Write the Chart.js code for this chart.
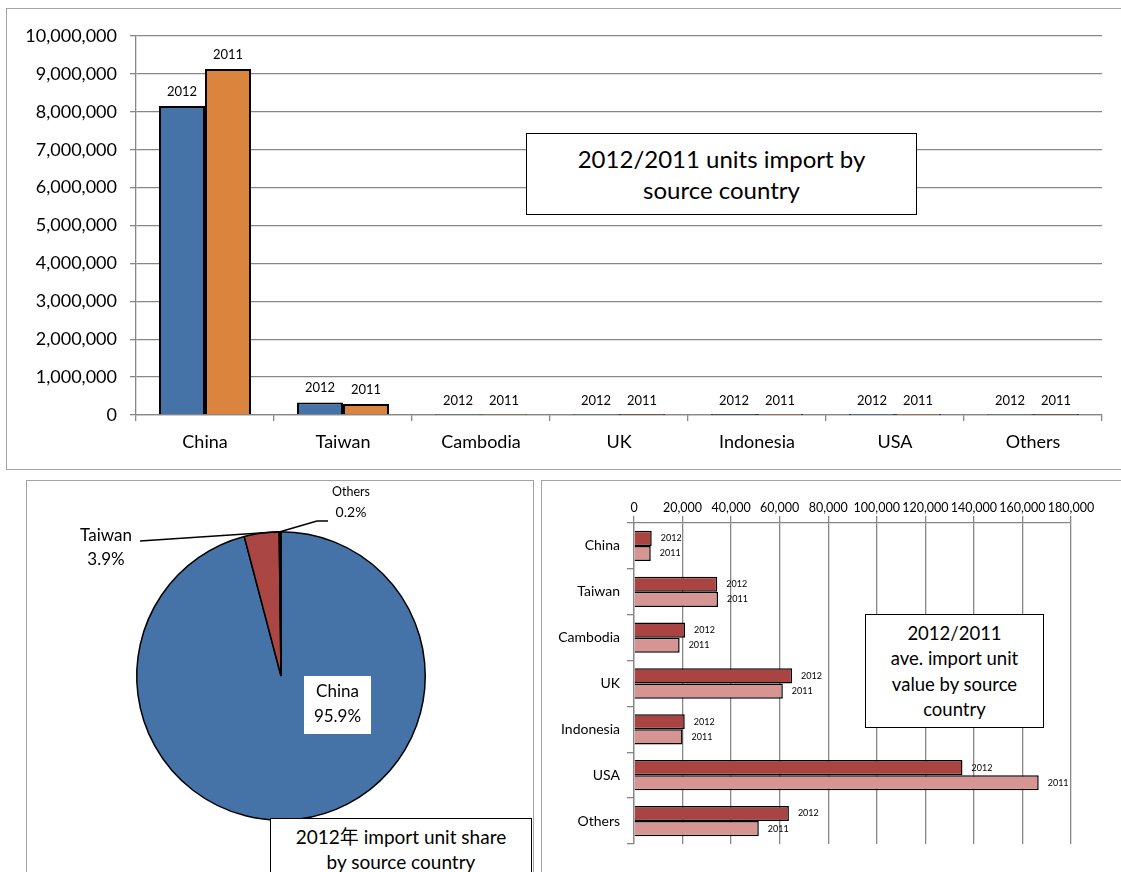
<!DOCTYPE html>
<html><head><meta charset="utf-8">
<script src="https://cdn.jsdelivr.net/npm/chart.js"></script>
<style>
html,body{margin:0;padding:0;background:#fff;overflow:hidden;}
body{width:1121px;height:872px;position:relative;font-family:Lato,"Noto Sans CJK SC",sans-serif;color:#000;}
.panel{position:absolute;border:1.5px solid #a3a3a3;box-sizing:border-box;}
.wrap{position:absolute;}
.wrap canvas{display:block;}
.tbox{position:absolute;background:#fff;border:1.5px solid #000;box-sizing:border-box;text-align:center;color:#000;}
</style></head><body>
<div class="panel" style="left:6px;top:8px;width:1140px;height:462px"></div>
<div class="panel" style="left:26px;top:480px;width:508px;height:420px"></div>
<div class="panel" style="left:541px;top:480px;width:600px;height:420px"></div>

<div class="wrap" style="left:0;top:0;width:1121px;height:470px"><canvas id="c1" width="1121" height="470"></canvas></div>
<div class="wrap" style="left:26px;top:480px;width:507px;height:392px"><canvas id="c2" width="507" height="392"></canvas></div>
<div class="wrap" style="left:541px;top:480px;width:580px;height:392px"><canvas id="c3" width="580" height="392"></canvas></div>

<div class="tbox" style="left:526px;top:133px;width:391px;height:82px;font-size:24px;line-height:31px;padding-top:9px;">2012/2011 units import by<br>source country</div>
<div class="tbox" style="left:270px;top:818px;width:262px;height:80px;font-size:19px;line-height:25px;padding-top:5px;">2012年 import unit share<br>by source country</div>
<div class="tbox" style="left:865px;top:614px;width:179px;height:114px;font-size:18.5px;line-height:25.3px;padding-top:6px;">2012/2011<br>ave. import unit<br>value by source<br>country</div>

<script>
// ---------- DATA ----------
const categories = ['China','Taiwan','Cambodia','UK','Indonesia','USA','Others'];
const seriesNames = ['2012','2011'];
const units2012 = [8150000, 330000, 4000, 3500, 3000, 2500, 3500];
const units2011 = [9130000, 290000, 3500, 3000, 2500, 2500, 3000];
const unitsAxisMax = 10000000;
const unitsAxisStep = 1000000;

const shareLabels = ['China','Taiwan','Others'];
const share2012 = [95.9, 3.9, 0.2];

const valueCategories = ['China','Taiwan','Cambodia','UK','Indonesia','USA','Others'];
const value2012 = [7300, 34300, 21000, 65100, 20900, 135300, 63800];
const value2011 = [6900, 34600, 18800, 61300, 20000, 166700, 51400];
const valueAxisMax = 180000;
const valueAxisStep = 20000;

// ---------- COMMON ----------
const FONT = "Lato, 'Noto Sans CJK SC', sans-serif";
Chart.defaults.font.family = FONT;
Chart.defaults.color = '#000';
const GRID = '#878787';
const fmt = v => Number(v).toLocaleString('en-US');

function barLabelPlugin(size, offset, horizontal){
  return {
    id: 'barLabels' + (horizontal ? 'H' : 'V'),
    afterDatasetsDraw(chart){
      const ctx = chart.ctx;
      ctx.save();
      ctx.font = size + 'px ' + FONT;
      ctx.fillStyle = '#000';
      chart.data.datasets.forEach((ds, i) => {
        const meta = chart.getDatasetMeta(i);
        meta.data.forEach(el => {
          if (horizontal) {
            ctx.textAlign = 'left'; ctx.textBaseline = 'middle';
            ctx.fillText(ds.label, el.x + offset, el.y);
          } else {
            ctx.textAlign = 'center'; ctx.textBaseline = 'alphabetic';
            ctx.fillText(ds.label, el.x, el.y - offset);
          }
        });
      });
      ctx.restore();
    }
  };
}

// ---------- TOP: units import ----------
new Chart(document.getElementById('c1'), {
  type: 'bar',
  data: {
    labels: categories,
    datasets: [
      {label: seriesNames[0], data: units2012, backgroundColor: '#4572A7', borderColor: '#000', borderWidth: 2},
      {label: seriesNames[1], data: units2011, backgroundColor: '#DB843D', borderColor: '#000', borderWidth: 2}
    ]
  },
  options: {
    responsive: false, animation: false, events: [],
    layout: {padding: {left: 0, top: 36, right: 19, bottom: 0}},
    datasets: {bar: {categoryPercentage: 0.667, barPercentage: 1.0}},
    plugins: {legend: {display: false}, tooltip: {enabled: false}},
    scales: {
      x: {
        grid: {display: true, drawOnChartArea: false, drawTicks: true, tickLength: 6, color: GRID, lineWidth: 1.3, offset: true},
        border: {color: GRID, width: 1.3},
        ticks: {font: {size: 18}, padding: 10, color: '#000'},
        afterFit: s => { s.height = 55; }
      },
      y: {
        min: 0, max: unitsAxisMax,
        grid: {color: GRID, lineWidth: 1.3, tickLength: 6},
        border: {color: GRID, width: 1.3},
        ticks: {stepSize: unitsAxisStep, font: {size: 18}, padding: 13, color: '#000', callback: v => fmt(v)},
        afterFit: s => { s.width = 136; }
      }
    }
  },
  plugins: [barLabelPlugin(13, 10, false)]
});

// ---------- BOTTOM LEFT: pie share ----------
const pieLabels = {
  id: 'pieLabels',
  afterDraw(chart){
    const ctx = chart.ctx;
    const meta = chart.getDatasetMeta(0);
    const china = meta.data[0], tw = meta.data[1], ot = meta.data[2];
    const cx = china.x, cy = china.y, r = china.outerRadius;
    ctx.save();
    ctx.strokeStyle = '#000'; ctx.lineWidth = 1.5; ctx.fillStyle = '#000';
    // Taiwan leader
    const aT = tw.endAngle;
    const tx = cx + Math.cos(aT) * r, ty = cy + Math.sin(aT) * r;
    ctx.beginPath(); ctx.moveTo(cx - 141, cy - 135); ctx.lineTo(tx, ty); ctx.stroke();
    ctx.font = '17px ' + FONT; ctx.textAlign = 'center'; ctx.textBaseline = 'middle';
    ctx.fillText(shareLabels[1], cx - 175, cy - 140);
    ctx.fillText(share2012[1].toFixed(1) + '%', cx - 175, cy - 116);
    // Others leader
    const aO = (ot.startAngle + ot.endAngle) / 2;
    const ox = cx + Math.cos(aO) * r, oy = cy + Math.sin(aO) * r;
    ctx.beginPath(); ctx.moveTo(ox, oy); ctx.lineTo(cx + 36, cy - 155); ctx.lineTo(cx + 47, cy - 155); ctx.stroke();
    ctx.font = '12.5px ' + FONT;
    ctx.fillText(shareLabels[2], cx + 70, cy - 184);
    ctx.font = '14px ' + FONT;
    ctx.fillText(share2012[2].toFixed(1) + '%', cx + 70, cy - 164);
    // China label with white box
    const bx = cx + 23, by = cy, bw = 67, bh = 58;
    ctx.fillStyle = '#fff'; ctx.fillRect(bx, by, bw, bh);
    ctx.fillStyle = '#000'; ctx.font = '17px ' + FONT;
    ctx.fillText(shareLabels[0], bx + bw / 2, by + 16);
    ctx.fillText(share2012[0].toFixed(1) + '%', bx + bw / 2, by + 41);
    ctx.restore();
  }
};
new Chart(document.getElementById('c2'), {
  type: 'pie',
  data: {
    labels: shareLabels,
    datasets: [{data: share2012, backgroundColor: ['#4572A7', '#AA4643', '#111111'], borderColor: '#000', borderWidth: 1.5, hoverOffset: 0}]
  },
  options: {
    responsive: false, animation: false, events: [],
    layout: {padding: {left: 110, right: 107, top: 51, bottom: 51}},
    plugins: {legend: {display: false}, tooltip: {enabled: false}}
  },
  plugins: [pieLabels]
});

// ---------- BOTTOM RIGHT: unit value ----------
new Chart(document.getElementById('c3'), {
  type: 'bar',
  data: {
    labels: valueCategories,
    datasets: [
      {label: seriesNames[0], data: value2012, backgroundColor: '#A94442', borderColor: '#000', borderWidth: 1.5},
      {label: seriesNames[1], data: value2011, backgroundColor: '#D69593', borderColor: '#000', borderWidth: 1.5}
    ]
  },
  options: {
    indexAxis: 'y',
    responsive: false, animation: false, events: [],
    layout: {padding: {left: 0, top: 0, right: 50, bottom: 28}},
    datasets: {bar: {categoryPercentage: 0.66, barPercentage: 1.0}},
    plugins: {legend: {display: false}, tooltip: {enabled: false}},
    scales: {
      x: {
        position: 'top', min: 0, max: valueAxisMax,
        grid: {color: GRID, lineWidth: 1.3, tickLength: 7},
        border: {color: GRID, width: 1.3},
        ticks: {stepSize: valueAxisStep, autoSkip: false, maxRotation: 0, font: {size: 12.5}, padding: 1, color: '#000', callback: v => fmt(v)},
        afterFit: s => { s.height = 43; }
      },
      y: {
        grid: {display: true, drawOnChartArea: false, tickLength: 7, color: GRID, lineWidth: 1.3, offset: true},
        border: {color: GRID, width: 1.3},
        ticks: {font: {size: 14}, padding: 7, color: '#000'},
        afterFit: s => { s.width = 93; }
      }
    }
  },
  plugins: [barLabelPlugin(9, 9, true)]
});
</script>
</body></html>
